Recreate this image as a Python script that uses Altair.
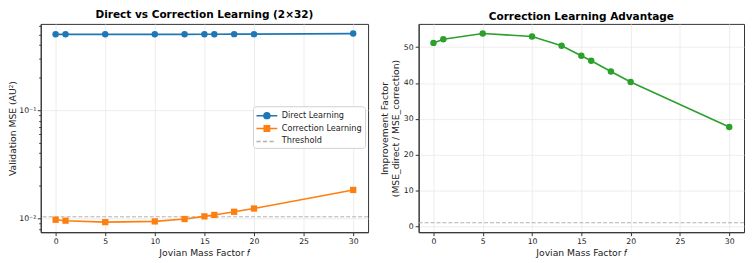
import altair as alt
import pandas as pd

# ---- data ----
f_values = [0, 1, 5, 10, 13, 15, 16, 18, 20, 30]
direct_mse = [0.500, 0.500, 0.500, 0.500, 0.500, 0.501, 0.501, 0.502, 0.502, 0.508]
correction_mse = [0.00977, 0.00958, 0.00929, 0.00943, 0.00992, 0.0105, 0.01082, 0.01157, 0.0124, 0.0184]
improvement = [51.2, 52.2, 53.8, 53.0, 50.4, 47.6, 46.2, 43.2, 40.3, 27.7]
mse_threshold = 0.0104
improvement_threshold = 1.0

series_names = ["Direct Learning", "Correction Learning", "Threshold"]
series_colors = ["#1f77b4", "#ff7f0e", "#b0b0b0"]
# legend glyphs (line + marker), unit box -1..1 with the line running on to the right
legend_paths = [
    "M-1,0L2.5,0M1.25,0A0.5,0.5,0,1,1,0.25,0A0.5,0.5,0,1,1,1.25,0Z",
    "M-1,0L2.5,0M0.3,-0.45L1.2,-0.45L1.2,0.45L0.3,0.45Z",
    "M-1,0L-0.3,0M0.1,0L0.8,0M1.2,0L1.9,0",
]
x_ticks = [0, 5, 10, 15, 20, 25, 30]
mse_ticks = [0.008, 0.009, 0.01, 0.02, 0.03, 0.04, 0.05, 0.06, 0.07, 0.08, 0.09,
             0.1, 0.2, 0.3, 0.4, 0.5, 0.6]
imp_ticks = [0, 10, 20, 30, 40, 50]

FONT = "DejaVu Sans"
DARK = "#333333"

direct_df = pd.DataFrame({"f": f_values, "mse": direct_mse, "series": series_names[0]})
corr_df = pd.DataFrame({"f": f_values, "mse": correction_mse, "series": series_names[1]})
thr_df = pd.DataFrame({"f": [f_values[0], f_values[-1]], "mse": [mse_threshold] * 2,
                       "series": series_names[2]})
all_df = pd.concat([direct_df, corr_df, thr_df], ignore_index=True)
imp_df = pd.DataFrame({"f": f_values, "imp": improvement})
imp_thr_df = pd.DataFrame({"imp": [improvement_threshold]})

x_enc = alt.X("f:Q", scale=alt.Scale(domain=[-1.5, 31.5], nice=False, zero=False),
              axis=alt.Axis(values=x_ticks, title="Jovian Mass Factor 𝑓", format="d"))

major_test = "abs(log(datum.value)/LN10 - round(log(datum.value)/LN10)) < 0.001"
y_mse = alt.Y("mse:Q",
              scale=alt.Scale(type="log", domain=[0.0075, 0.624], nice=False),
              axis=alt.Axis(values=mse_ticks, title="Validation MSE (AU²)", titlePadding=1,
                            labelPadding=1.5,
                            labelExpr=f"{major_test} ? (datum.value < 0.05 ? '10⁻²' : '10⁻¹') : ''",
                            labelOverlap=False,
                            tickSize={"condition": {"test": major_test, "value": 3.5}, "value": 2},
                            gridOpacity={"condition": {"test": major_test, "value": 1}, "value": 0}))

line_direct = alt.Chart(direct_df).mark_line(color=series_colors[0], strokeWidth=1.6).encode(x=x_enc, y=y_mse)
pts_direct = alt.Chart(direct_df).mark_point(shape="circle", filled=True, size=42, opacity=1,
                                             color=series_colors[0]).encode(x=x_enc, y=y_mse)
line_corr = alt.Chart(corr_df).mark_line(color=series_colors[1], strokeWidth=1.6).encode(x=x_enc, y=y_mse)
pts_corr = alt.Chart(corr_df).mark_point(shape="square", filled=True, size=40, opacity=1,
                                         color=series_colors[1]).encode(x=x_enc, y=y_mse)
thr_rule = alt.Chart(thr_df.iloc[:1]).mark_rule(color=series_colors[2], strokeDash=[4, 2],
                                                strokeWidth=1).encode(y=y_mse)

leg = alt.Legend(title=None, orient="none", legendX=214, legendY=83,
                 symbolSize=144, symbolStrokeWidth=1.5, symbolOpacity=1,
                 labelFontSize=8.2, labelFont=FONT, labelColor="#222",
                 fillColor="white", strokeColor="#d0d0d0", padding=2.5,
                 rowPadding=0, cornerRadius=3, labelOffset=12.5)
legend_layer = alt.Chart(all_df).mark_point(filled=True, opacity=1, size=0).encode(
    x=x_enc, y=y_mse,
    fill=alt.Fill("series:N", scale=alt.Scale(domain=series_names, range=series_colors), legend=leg),
    stroke=alt.Stroke("series:N", scale=alt.Scale(domain=series_names, range=series_colors), legend=leg),
    shape=alt.Shape("series:N", scale=alt.Scale(domain=series_names, range=legend_paths), legend=leg),
)

left = alt.layer(thr_rule, line_direct, pts_direct, line_corr, pts_corr, legend_layer).properties(
    width=330, height=210, title="Direct vs Correction Learning (2×32)")

y_imp = alt.Y("imp:Q", scale=alt.Scale(domain=[-1.64, 56.5], nice=False, zero=False),
              axis=alt.Axis(values=imp_ticks,
                            title=["Improvement Factor", "(MSE_direct / MSE_correction)"]))
line_imp = alt.Chart(imp_df).mark_line(color="#2ca02c", strokeWidth=1.6).encode(x=x_enc, y=y_imp)
pts_imp = alt.Chart(imp_df).mark_point(shape="circle", filled=True, size=42, opacity=1,
                                       color="#2ca02c").encode(x=x_enc, y=y_imp)
imp_rule = alt.Chart(imp_thr_df).mark_rule(color=series_colors[2], strokeDash=[4, 2],
                                           strokeWidth=1).encode(y=y_imp)
right = alt.layer(imp_rule, line_imp, pts_imp).properties(
    width=328, height=210, title="Correction Learning Advantage")

chart = alt.hconcat(left, right, spacing=10).properties(
    padding=0
).configure(
    font=FONT
).configure_view(
    stroke=DARK, strokeWidth=1
).configure_axis(
    labelFont=FONT, titleFont=FONT, labelFontSize=7.8, titleFontSize=9.3,
    labelColor="#222", titleColor="#222", titleFontWeight="normal",
    tickColor=DARK, domainColor=DARK, tickSize=3.5, labelPadding=2,
    gridColor="#e8e8e8", gridWidth=0.8, titlePadding=3
).configure_title(
    font=FONT, fontSize=10.6, fontWeight="bold", color="black", offset=1, anchor="middle"
)

chart.save("out.html", embed_options={"renderer": "svg", "actions": False})
